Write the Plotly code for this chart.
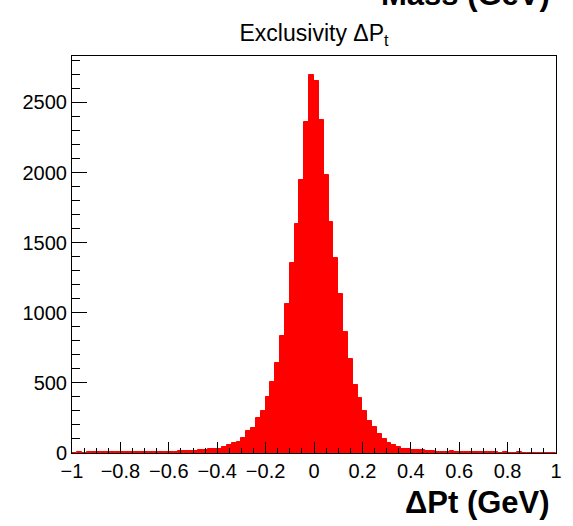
import numpy as np
import plotly.graph_objects as go

# Histogram: 100 bins from -1 to 1 (width 0.02)
bin_lo = -1.0
bin_width = 0.02
counts = [
    3, 4, 3, 5, 4, 4, 5, 4, 6, 5,
    5, 6, 5, 7, 6, 7, 6, 8, 7, 8,
    8, 9, 11, 12, 14, 16, 20, 22, 25, 28,
    32, 40, 58, 70, 82, 108, 160, 176, 250, 302,
    397, 508, 641, 835, 1065, 1357, 1630, 1945, 2357, 2696,
    2653, 2376, 1980, 1646, 1392, 1132, 864, 670, 485, 392,
    302, 231, 183, 136, 101, 70, 58, 41, 30, 28,
    23, 22, 18, 14, 13, 10, 9, 8, 12, 7,
    6, 5, 6, 5, 4, 5, 4, 4, 3, 4,
    3, 3, 4, 3, 2, 3, 3, 2, 3, 2,
]
centers = [bin_lo + bin_width * (i + 0.5) for i in range(len(counts))]

x_tickvals = [-1, -0.8, -0.6, -0.4, -0.2, 0, 0.2, 0.4, 0.6, 0.8, 1]
x_ticktext = ["\u22121", "\u22120.8", "\u22120.6", "\u22120.4", "\u22120.2", "0", "0.2", "0.4", "0.6", "0.8", "1"]
y_tickvals = [0, 500, 1000, 1500, 2000, 2500]
y_ticktext = ["0", "500", "1000", "1500", "2000", "2500"]

title_text = "Exclusivity \u0394P<sub>t</sub>"
xtitle_text = "<b>\u0394Pt (GeV)</b>"
other_text = "<b>Mass (GeV)</b>"

ymax = max(counts) * 1.05

fig = go.Figure()
fig.add_trace(go.Bar(
    x=centers, y=counts, width=bin_width,
    marker=dict(color="#ff0000", line=dict(color="#ff0000", width=1)),
    showlegend=False,
))

tickfont = dict(family="Liberation Sans, Arial, sans-serif", size=20, color="black")
fig.update_layout(
    width=573, height=526,
    margin=dict(l=72, r=17, t=56, b=73),
    paper_bgcolor="white", plot_bgcolor="white",
    bargap=0,
    title=dict(text=title_text, x=0.5, xref="paper", xanchor="center",
               y=1 - 33 / 526, yanchor="middle",
               font=dict(family="Liberation Sans, Arial, sans-serif", size=23, color="black")),
    xaxis=dict(range=[-1, 1], tickmode="array", tickvals=x_tickvals, ticktext=x_ticktext,
               ticks="inside", ticklen=11, tickwidth=1, tickcolor="black",
               minor=dict(dtick=0.05, tick0=-1, ticks="inside", ticklen=5, tickwidth=1, tickcolor="black"),
               showline=True, linecolor="black", linewidth=1, mirror=True,
               showgrid=False, zeroline=False, tickfont=tickfont),
    yaxis=dict(range=[0, ymax], tickmode="array", tickvals=y_tickvals, ticktext=y_ticktext,
               ticks="inside", ticklen=15, tickwidth=1, tickcolor="black",
               minor=dict(dtick=100, tick0=0, ticks="inside", ticklen=8, tickwidth=1, tickcolor="black"),
               showline=True, linecolor="black", linewidth=1, mirror=True,
               showgrid=False, zeroline=False, tickfont=tickfont),
    annotations=[
        dict(text=xtitle_text, xref="paper", yref="paper", x=(552 - 72) / 484, y=(453 - 522) / 397,
             xanchor="right", yanchor="bottom", showarrow=False,
             font=dict(family="Liberation Sans Narrow, Arial Narrow, Liberation Sans, sans-serif", size=31, color="black")),
        dict(text=other_text, xref="paper", yref="paper", x=(552 - 72) / 484, y=(453 - 14) / 397,
             xanchor="right", yanchor="bottom", showarrow=False,
             font=dict(family="Liberation Sans Narrow, Arial Narrow, Liberation Sans, sans-serif", size=31, color="black")),
    ],
)

fig.write_html("out.html")
